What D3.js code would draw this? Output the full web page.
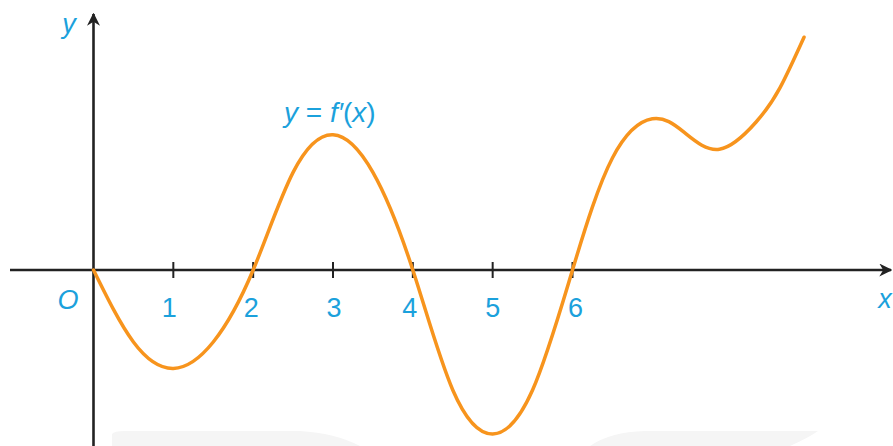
<!DOCTYPE html>
<html>
<head>
<meta charset="utf-8">
<script src="https://cdn.jsdelivr.net/npm/d3@7"></script>
<style>
  body { margin: 0; background: #fff; }
  text { font-family: "Liberation Sans", Arial, sans-serif; fill: #1ba1dc; }
</style>
</head>
<body>
<div id="chart"></div>
<script>
// values (x units, y units)
const curveX = [0, 0.5, 1, 1.5, 2, 2.5, 3, 3.5, 4, 4.5, 5, 5.5, 6, 6.5, 7.0, 7.4, 7.84, 8.3, 8.6, 8.9];
const curveY = [0, -0.9, -1.23, -0.9, 0, 1.22, 1.69, 1.22, 0, -1.5, -2.05, -1.5, 0, 1.4, 1.89, 1.72, 1.51, 1.85, 2.28, 2.91];
const tickValues = [1, 2, 3, 4, 5, 6];
const tickLabels = ["1", "2", "3", "4", "5", "6"];

const width = 893, height = 446;
const axisColor = "#222";
const curveColor = "#f7941d";

// origin at (93.5, 270), 79.83 px per unit on x, 80 px per unit on y
const x = d3.scaleLinear().domain([0, 6]).range([93.5, 572.5]);
const y = d3.scaleLinear().domain([0, 1]).range([270, 190]);

const svg = d3.select("#chart")
  .append("svg")
  .attr("width", width)
  .attr("height", height);

// faint background shapes at the bottom
svg.append("path")
  .attr("d", "M112,446 L112,434 Q114,431 125,431 L300,431 Q335,433 360,446 Z")
  .attr("fill", "#f5f5f5");
svg.append("path")
  .attr("d", "M590,446 Q610,432 645,431 L818,431 Q808,438 790,446 Z")
  .attr("fill", "#f5f5f5");

// arrow marker
svg.append("defs").append("marker")
  .attr("id", "arrow")
  .attr("viewBox", "0 0 10 10")
  .attr("refX", 9).attr("refY", 5)
  .attr("markerWidth", 5).attr("markerHeight", 5)
  .attr("markerUnits", "strokeWidth")
  .attr("orient", "auto")
  .append("path")
  .attr("d", "M0,0 L10,5 L0,10 L3,5 Z")
  .attr("fill", axisColor);

// x axis
svg.append("line")
  .attr("x1", 10).attr("x2", 891)
  .attr("y1", y(0)).attr("y2", y(0))
  .attr("stroke", axisColor).attr("stroke-width", 2.6)
  .attr("marker-end", "url(#arrow)");

// y axis
svg.append("line")
  .attr("x1", x(0)).attr("x2", x(0))
  .attr("y1", 446).attr("y2", 14)
  .attr("stroke", axisColor).attr("stroke-width", 2.6)
  .attr("marker-end", "url(#arrow)");

// ticks
svg.selectAll(".tick")
  .data(tickValues)
  .enter().append("line")
  .attr("x1", d => x(d)).attr("x2", d => x(d))
  .attr("y1", y(0) - 8).attr("y2", y(0) + 8)
  .attr("stroke", axisColor).attr("stroke-width", 2);

// tick labels (small nudges so they clear the curve, as in the original)
const nudge = [-4, -2, 1, -3, 0, 3];
svg.selectAll(".tlabel")
  .data(tickValues)
  .enter().append("text")
  .attr("x", (d, i) => x(d) + nudge[i])
  .attr("y", 317)
  .attr("text-anchor", "middle")
  .attr("font-size", 27)
  .text((d, i) => tickLabels[i]);

svg.append("text")
  .attr("x", 68).attr("y", 309)
  .attr("text-anchor", "middle")
  .attr("font-size", 27).attr("font-style", "italic")
  .text("O");

svg.append("text")
  .attr("x", 885).attr("y", 308)
  .attr("text-anchor", "middle")
  .attr("font-size", 27).attr("font-style", "italic")
  .text("x");

svg.append("text")
  .attr("x", 69).attr("y", 33)
  .attr("text-anchor", "middle")
  .attr("font-size", 27).attr("font-style", "italic")
  .text("y");

// curve label
const lab = svg.append("text")
  .attr("x", 284).attr("y", 122)
  .attr("font-size", 28);
lab.append("tspan").attr("font-style", "italic").text("y");
lab.append("tspan").text(" = ");
lab.append("tspan").attr("font-style", "italic").text("f′");
lab.append("tspan").text("(");
lab.append("tspan").attr("font-style", "italic").text("x");
lab.append("tspan").text(")");

// the curve
const pts = curveX.map((v, i) => [v, curveY[i]]);
const line = d3.line()
  .x(d => x(d[0]))
  .y(d => y(d[1]))
  .curve(d3.curveNatural);

svg.append("path")
  .datum(pts)
  .attr("d", line)
  .attr("fill", "none")
  .attr("stroke", curveColor)
  .attr("stroke-width", 3.5)
  .attr("stroke-linecap", "round");
</script>
</body>
</html>
